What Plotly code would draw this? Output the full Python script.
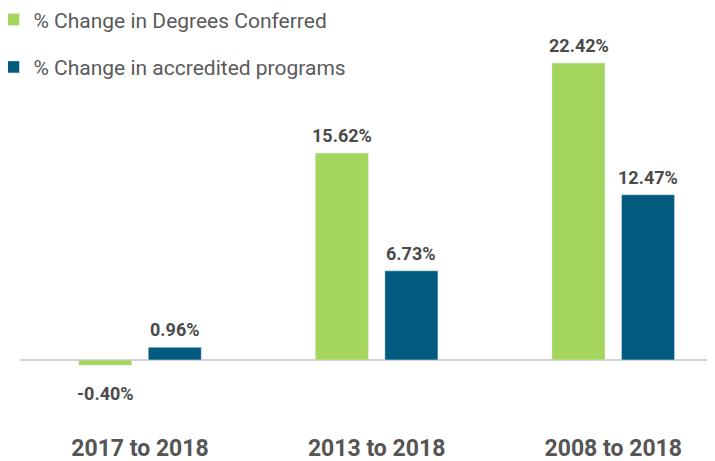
import plotly.graph_objects as go

categories = ["2017 to 2018", "2013 to 2018", "2008 to 2018"]
degrees = [-0.40, 15.62, 22.42]
programs = [0.96, 6.73, 12.47]
series_names = ["% Change in Degrees Conferred", "% Change in accredited programs"]
colors = ["#A4D65E", "#005B7F"]

FONT = "Roboto"
fig = go.Figure()
for i, (name, vals) in enumerate(zip(series_names, [degrees, programs])):
    fig.add_trace(go.Bar(
        x=categories, y=vals, name=name, marker_color=colors[i],
        legendgroup=f"g{i}", hoverinfo="skip",
    ))

annotations = []
for i, vals in enumerate([degrees, programs]):
    xs = -34.75 if i == 0 else 34.75
    for c, v in zip(categories, vals):
        annotations.append(dict(
            x=c, y=v, xref="x", yref="y", text=f"<b>{v:.2f}%</b>",
            showarrow=False, xshift=xs,
            yanchor="bottom" if v >= 0 else "top",
            yshift=5 if v >= 0 else -16,
            font=dict(family=FONT, size=18, color="#4a4a4a"),
        ))

fig.update_layout(
    width=707, height=453,
    margin=dict(l=12, r=0, t=0, b=45, autoexpand=False),
    paper_bgcolor="white", plot_bgcolor="white",
    barmode="group", bargap=0.412, bargroupgap=0.237,
    showlegend=True,
    legend=dict(
        x=-0.0382, y=1.021, xanchor="left", yanchor="top",
        font=dict(family=FONT, size=21, color="#5a5a5a"),
        tracegroupgap=17, bgcolor="rgba(0,0,0,0)",
    ),
    annotations=annotations,
)
fig.update_xaxes(
    range=[-0.507, 2.43], showgrid=False, showline=False, ticks="",
    tickfont=dict(family=FONT, size=23, color="#555555"),
    tickvals=categories, ticktext=[f"<b>{c}</b>" for c in categories],
    ticklabelstandoff=16, automargin=False,
)
fig.update_yaxes(
    range=[-4.23, 26.57], showgrid=False, showticklabels=False,
    zeroline=True, zerolinecolor="#d3d3d3", zerolinewidth=2, automargin=False,
)
fig.write_html("out.html")
